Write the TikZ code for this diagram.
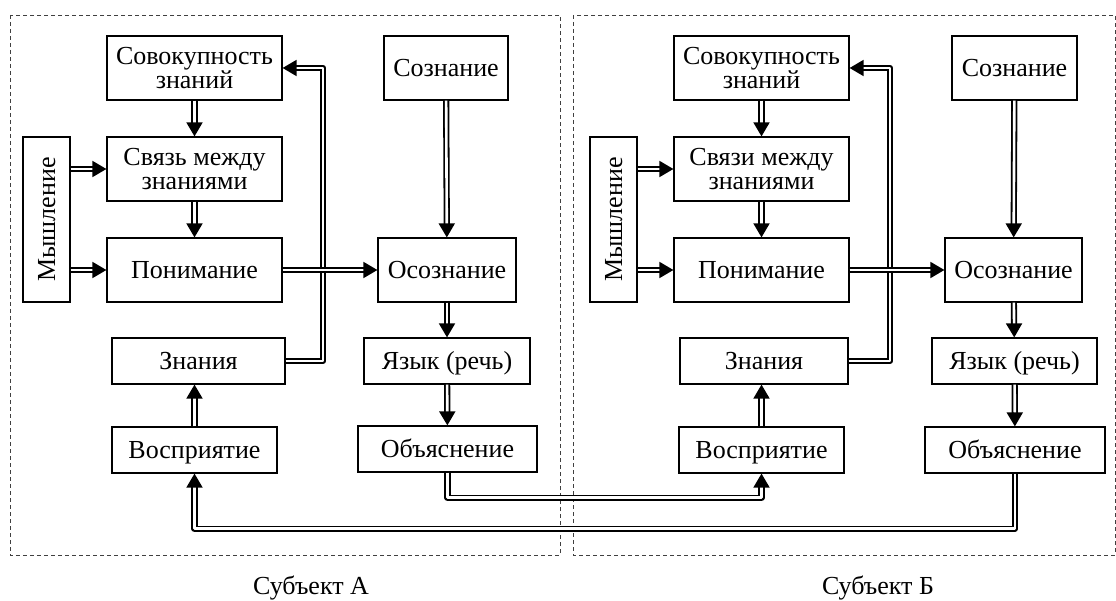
\documentclass[tikz,border=0pt]{standalone}
\usepackage{fontspec}
\setmainfont{Liberation Serif}
\usetikzlibrary{arrows.meta,calc}
\newcommand{\myfs}{\fontsize{26}{24}\selectfont}
\tikzset{
  box/.style={draw, line width=1.2pt, inner sep=0pt, align=center, font=\myfs, text depth=0pt},
  one/.style={text height=17pt},
  dbl/.style={double, double distance=2.6pt, line width=1.8pt, line join=round,
    -{Triangle[length=14pt,width=16pt]}},
  frame/.style={draw=black!75, line width=0.9pt, dash pattern=on 4pt off 3pt},
  lbl/.style={font=\myfs, inner sep=0pt, text height=17pt, text depth=0pt}
}
\begin{document}
\begin{tikzpicture}[x=1pt,y=-1pt]
\useasboundingbox (0,0) rectangle (1116,601);
% frames
\draw[frame] (10,15) rectangle (560,555);
\draw[frame] (573,15) rectangle (1115,555);
% Subject A
\node[box, minimum width=175pt, minimum height=64pt] (sov) at (194.5,68) {Совокупность\\знаний};
\node[box, minimum width=175pt, minimum height=64pt] (svz) at (194.5,169) {Связь между\\знаниями};
\node[box, one, minimum width=175pt, minimum height=64pt] (pon) at (194.5,270) {Понимание};
\node[box, one, minimum width=165pt, minimum height=47pt, rotate=90] (mysh) at (46.5,219.5) {Мышление};
\node[box, one, minimum width=124pt, minimum height=64pt] (soz) at (446,68) {Сознание};
\node[box, one, minimum width=138pt, minimum height=64pt] (osoz) at (447,270) {Осознание};
\node[box, one, minimum width=166pt, minimum height=46pt] (yaz) at (447,361) {Язык (речь)};
\node[box, one, minimum width=179pt, minimum height=46pt] (obj) at (447.5,449) {Объяснение};
\node[box, one, minimum width=173pt, minimum height=46pt] (zn) at (198.5,361) {Знания};
\node[box, one, minimum width=165pt, minimum height=46pt] (vos) at (194.5,450) {Восприятие};
% Subject B
\node[box, minimum width=175pt, minimum height=64pt] (sovB) at (761.5,68) {Совокупность\\знаний};
\node[box, minimum width=175pt, minimum height=64pt] (svzB) at (761.5,169) {Связи между\\знаниями};
\node[box, one, minimum width=175pt, minimum height=64pt] (ponB) at (761.5,270) {Понимание};
\node[box, one, minimum width=165pt, minimum height=47pt, rotate=90] (myshB) at (613.5,219.5) {Мышление};
\node[box, one, minimum width=125pt, minimum height=64pt] (sozB) at (1014.5,68) {Сознание};
\node[box, one, minimum width=137pt, minimum height=64pt] (osozB) at (1013.5,270) {Осознание};
\node[box, one, minimum width=165pt, minimum height=46pt] (yazB) at (1014.5,361) {Язык (речь)};
\node[box, one, minimum width=180pt, minimum height=46pt] (objB) at (1015,450) {Объяснение};
\node[box, one, minimum width=168pt, minimum height=46pt] (znB) at (764,361) {Знания};
\node[box, one, minimum width=165pt, minimum height=46pt] (vosB) at (761.5,450) {Восприятие};
% labels
\node[lbl] (la) at (311,586) {Субъект А};
\node[lbl] (lb) at (878,586) {Субъект Б};
% connectors A
\draw[dbl] (sov) -- (svz);
\draw[dbl] (svz) -- (pon);
\draw[dbl] (mysh.south |- svz) -- (svz.west);
\draw[dbl] (mysh.south |- pon) -- (pon.west);
\draw[dbl] (soz) -- (osoz);
\draw[dbl] (osoz) -- (yaz);
\draw[dbl] (yaz) -- (obj);
\draw[dbl] (vos) -- (vos |- zn.south);
\draw[dbl] (zn.east) -- ++(37.5,0) |- (sov.east);
\draw[dbl] (pon.east) -- (osoz.west);
% connectors B
\draw[dbl] (sovB) -- (svzB);
\draw[dbl] (svzB) -- (ponB);
\draw[dbl] (myshB.south |- svzB) -- (svzB.west);
\draw[dbl] (myshB.south |- ponB) -- (ponB.west);
\draw[dbl] (sozB) -- (osozB);
\draw[dbl] (osozB) -- (yazB);
\draw[dbl] (yazB) -- (objB);
\draw[dbl] (vosB) -- (vosB |- znB.south);
\draw[dbl] (znB.east) -- ++(41.5,0) |- (sovB.east);
\draw[dbl] (ponB.east) -- (osozB.west);
% cross connectors
\draw[dbl] (obj.south) -- ++(0,25) -| (vosB.south);
\draw[dbl] (objB.south) -- ++(0,55) -| (vos.south);
\end{tikzpicture}
\end{document}
